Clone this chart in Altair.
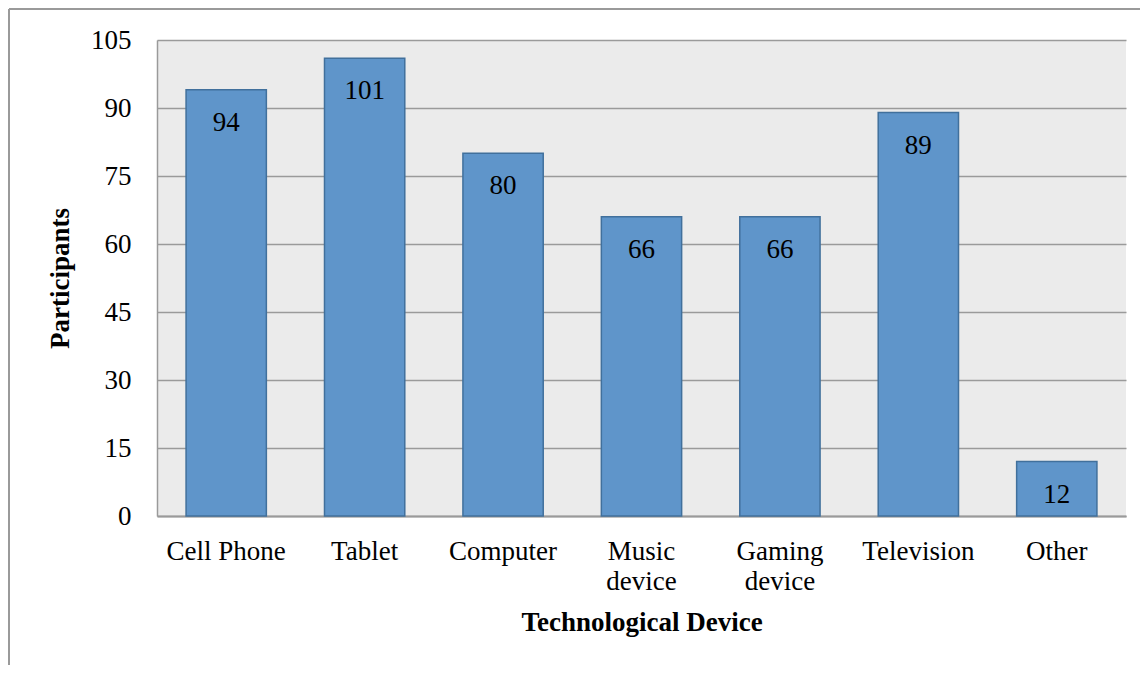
import altair as alt
import pandas as pd

categories = ["Cell Phone", "Tablet", "Computer", "Music\ndevice", "Gaming\ndevice", "Television", "Other"]
participants = [94, 101, 80, 66, 66, 89, 12]
y_ticks = [0, 15, 30, 45, 60, 75, 90, 105]

df = pd.DataFrame({"device": categories, "count": participants})

FONT = "Liberation Serif"
GRID = "#9a9a9a"
FS = 27

x_enc = alt.X(
    "device:N",
    sort=categories,
    scale=alt.Scale(paddingInner=0.42, paddingOuter=0.21),
    axis=alt.Axis(
        title="Technological Device",
        labelAngle=0,
        labelExpr="split(datum.label, '\\n')",
        labelLineHeight=30,
        labelFontSize=FS,
        labelFont=FONT,
        labelColor="black",
        labelPadding=22,
        labelBaseline="top",
        ticks=False,
        domainColor=GRID,
        domainWidth=2,
        titleFont=FONT,
        titleFontSize=FS,
        titleFontWeight="bold",
        titleColor="black",
        titlePadding=15,
    ),
)
y_enc = alt.Y(
    "count:Q",
    scale=alt.Scale(domain=[0, 105], nice=False),
    axis=alt.Axis(
        title="Participants",
        values=y_ticks,
        labelFontSize=FS,
        labelFont=FONT,
        labelColor="black",
        labelPadding=26,
        ticks=False,
        domainColor=GRID,
        domainWidth=1.5,
        gridColor=GRID,
        gridWidth=1.5,
        titleFont=FONT,
        titleFontSize=FS,
        titleFontWeight="bold",
        titleColor="black",
        titlePadding=16,
    ),
)

base = alt.Chart(df)
bars = base.mark_bar(color="#5f95ca", stroke="#41709c", strokeWidth=1.5).encode(x=x_enc, y=y_enc)
labels = base.mark_text(font=FONT, fontSize=FS, color="black", baseline="middle", dy=33).encode(
    x=alt.X("device:N", sort=categories), y=alt.Y("count:Q"), text="count:Q"
)

frame_df = pd.DataFrame({"a": [0]})
frame_top = alt.Chart(frame_df).mark_rule(color=GRID, strokeWidth=2).encode(
    x=alt.value(-148), x2=alt.value(1100), y=alt.value(-31)
)
frame_left = alt.Chart(frame_df).mark_rule(color=GRID, strokeWidth=2).encode(
    x=alt.value(-148), y=alt.value(-31), y2=alt.value(700)
)

chart = alt.layer(bars, labels, frame_top, frame_left).properties(
    width=969,
    height=476,
    autosize=alt.AutoSizeParams(type="none"),
    padding={"left": 149, "top": 32, "right": 14, "bottom": 149},
    background="white",
).configure_view(fill="#ebebeb", stroke=None)

chart.save("out.html", embed_options={"renderer": "svg", "actions": False})
